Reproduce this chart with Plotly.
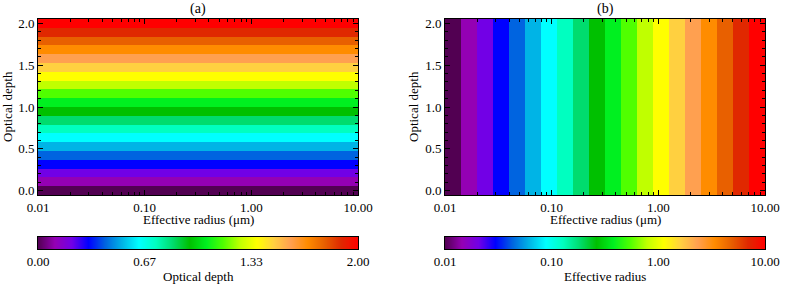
import numpy as np
import plotly.graph_objects as go

W, H = 785, 286

# ---- data ----
optical_depth = [0.000, 0.105, 0.211, 0.316, 0.421, 0.526, 0.632, 0.737, 0.842, 0.947,
                 1.053, 1.158, 1.263, 1.368, 1.474, 1.579, 1.684, 1.789, 1.895, 2.000]
effective_radius = [0.0119, 0.0168, 0.0237, 0.0335, 0.0473, 0.0668, 0.0944, 0.1334, 0.1884, 0.2661,
                    0.3758, 0.5309, 0.7499, 1.0593, 1.4962, 2.1135, 2.9854, 4.2170, 5.9566, 8.4140]
od_ticks = [0.0, 0.5, 1.0, 1.5, 2.0]
od_ticktext = ["0.0", "0.5", "1.0", "1.5", "2.0"]
re_ticks = [0.01, 0.1, 1.0, 10.0]
re_ticktext = ["0.01", "0.10", "1.00", "10.00"]
cb_od_ticks = [0.0, 0.6667, 1.3333, 2.0]
cb_od_ticktext = ["0.00", "0.67", "1.33", "2.00"]
band_colors = ["#520052", "#9400b4", "#7200e6", "#0000ff", "#0064e0", "#00b4e6", "#00ffff",
               "#00ffc0", "#00dc6e", "#00c000", "#00f020", "#50ff00", "#c0ff00", "#ffff00",
               "#ffd040", "#ffa050", "#ff8c00", "#e86000", "#e02800", "#ff0000"]

n = len(band_colors)
cscale = [[i / (n - 1), c] for i, c in enumerate(band_colors)]

def px_x(x):
    return x / W

def px_y(y):
    return 1 - y / H

# edges for panel (a) y-cells
od = np.array(optical_depth)
od_mid = (od[:-1] + od[1:]) / 2
od_edges = np.concatenate([[od[0] - (od[1] - od[0]) / 2], od_mid, [od[-1] + (od[-1] - od[-2]) / 2]])
# edges for panel (b) x-cells (log)
er = np.array(effective_radius)
er_mid = np.sqrt(er[:-1] * er[1:])
er_edges = np.concatenate([[0.01], er_mid, [10.0]])

FONT = "Times New Roman"
fig = go.Figure()

# panel (a)
fig.add_trace(go.Heatmap(
    x=[0.01, 10.0], y=od_edges, z=[[v] for v in optical_depth],
    colorscale=cscale, zmin=min(optical_depth), zmax=max(optical_depth),
    showscale=False, xaxis="x", yaxis="y", hoverinfo="skip"))
# panel (b)
lr = np.log10(er)
fig.add_trace(go.Heatmap(
    x=er_edges, y=[od_edges[0], od_edges[-1]], z=[list(lr)],
    colorscale=cscale, zmin=lr.min(), zmax=lr.max(),
    showscale=False, xaxis="x2", yaxis="y2", hoverinfo="skip"))

# colorbars as gradient heatmaps
cbx = np.linspace(0, 2, 321)
cbz = (cbx[:-1] + cbx[1:]) / 2
fig.add_trace(go.Heatmap(x=cbx, y=[0, 1], z=[list(cbz)], colorscale=cscale, zmin=0, zmax=2,
                         showscale=False, xaxis="x3", yaxis="y3", hoverinfo="skip"))
cbl = np.linspace(-2, 1, 321)
cblz = (cbl[:-1] + cbl[1:]) / 2
fig.add_trace(go.Heatmap(x=10 ** cbl, y=[0, 1], z=[list(cblz)], colorscale=cscale, zmin=-2, zmax=1,
                         showscale=False, xaxis="x4", yaxis="y4", hoverinfo="skip"))

tickfont = dict(family=FONT, size=13, color="black")
common_axis = dict(showline=True, linecolor="black", linewidth=1, mirror="ticks",
                   ticks="inside", ticklen=5, tickcolor="black", showgrid=False,
                   zeroline=False, tickfont=tickfont, automargin=False)

xa_dom = [px_x(38), px_x(358)]
xb_dom = [px_x(445), px_x(765)]
ymain = [px_y(195), px_y(19)]
ycb = [px_y(249), px_y(237)]

logx = dict(type="log", range=[-2, 1], tickvals=re_ticks, ticktext=re_ticktext,
            minor=dict(ticks="inside", ticklen=3, tickcolor="black", dtick="D1", showgrid=False))
ylin = dict(range=[od_edges[0], od_edges[-1]], tickvals=od_ticks, ticktext=od_ticktext,
            minor=dict(ticks="inside", ticklen=3, tickcolor="black", dtick=0.1, showgrid=False))
cb_axis = dict(showline=True, linecolor="black", linewidth=1, mirror=True, ticks="",
               showgrid=False, zeroline=False, tickfont=tickfont, automargin=False)

fig.update_layout(
    width=W, height=H, margin=dict(l=0, r=0, t=0, b=0, autoexpand=False),
    paper_bgcolor="white", plot_bgcolor="white", showlegend=False,
    font=dict(family=FONT, size=13, color="black"),
    xaxis=dict(domain=xa_dom, anchor="y", **common_axis, **logx),
    yaxis=dict(domain=ymain, anchor="x", **common_axis, **ylin),
    xaxis2=dict(domain=xb_dom, anchor="y2", **common_axis, **logx),
    yaxis2=dict(domain=ymain, anchor="x2", **common_axis, **ylin),
    xaxis3=dict(domain=xa_dom, anchor="y3", range=[0, 2], tickvals=cb_od_ticks,
                ticktext=cb_od_ticktext, **cb_axis),
    yaxis3=dict(domain=ycb, anchor="x3", range=[0, 1], showticklabels=False, **cb_axis),
    xaxis4=dict(domain=xb_dom, anchor="y4", type="log", range=[-2, 1], tickvals=re_ticks,
                ticktext=re_ticktext, **cb_axis),
    yaxis4=dict(domain=ycb, anchor="x4", range=[0, 1], showticklabels=False, **cb_axis),
)

def ann(text, x, y, angle=0, size=13):
    fig.add_annotation(text=text, x=px_x(x), y=px_y(y), xref="paper", yref="paper",
                       xanchor="center", yanchor="middle", showarrow=False, textangle=angle,
                       font=dict(family=FONT, size=size, color="black"))

ann("(a)", 198, 9, size=14)
ann("(b)", 605, 9, size=14)
ann("Effective radius (μm)", 198, 219)
ann("Effective radius (μm)", 605, 219)
ann("Optical depth", 7, 107, angle=-90)
ann("Optical depth", 413, 107, angle=-90)
ann("Optical depth", 198, 276)
ann("Effective radius", 605, 276)

fig.write_html("out.html")
